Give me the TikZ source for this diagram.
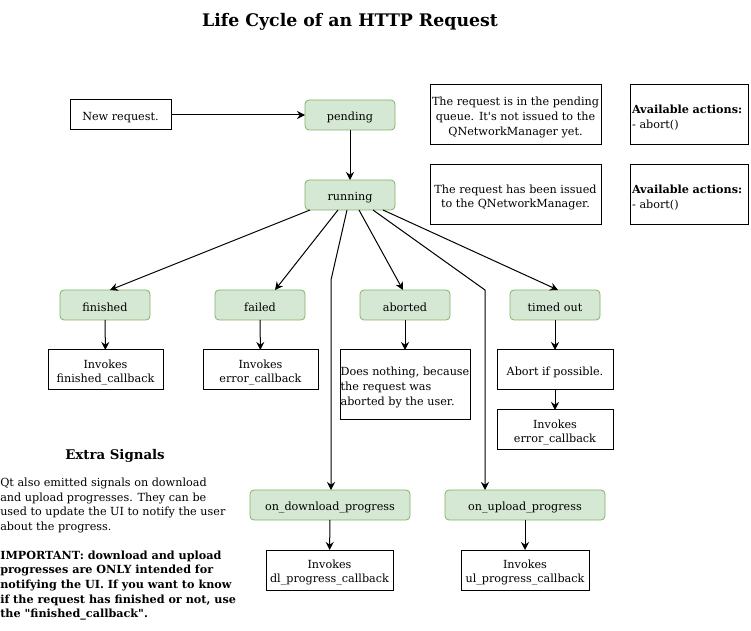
\documentclass[tikz,border=0pt]{standalone}
\usepackage{fontspec}
\setmainfont{DejaVu Serif}
\usetikzlibrary{arrows.meta,calc}
\definecolor{gfill}{HTML}{D5E8D4}
\definecolor{gdraw}{HTML}{82B366}
\newcommand{\bx}[7]{%
  \node[#6, minimum width={(#4-#2)*0.75pt}, minimum height={(#5-#3)*0.75pt}]
    (#1) at ({(#2+#4)/2},{(#3+#5)/2}) {};
  \node[#6, draw=none, fill=none, minimum width=0pt, minimum height=0pt]
    (#1-text) at ({(#2+#4)/2},{(#3+#5)/2+2.5}) {#7};}
\tikzset{
  base/.style={inner sep=1pt, outer sep=0pt, font=\fontsize{8.4}{10.9}\selectfont, align=center},
  gbox/.style={base, draw=gdraw, fill=gfill, rounded corners=3pt, line width=0.6pt},
  wbox/.style={base, draw=black, fill=white, line width=0.75pt},
  arr/.style={draw=black, line width=0.75pt, -{Stealth[length=6pt,width=6pt,inset=2pt]}},
}
\begin{document}
\begin{tikzpicture}[x=0.75pt,y=-0.75pt]
\useasboundingbox (0,0) rectangle (751,631);
\node[font=\fontsize{13}{15}\selectfont\bfseries] (title) at (350,22) {Life Cycle of an HTTP Request};

\bx{newreq}{70}{100}{171}{130}{wbox}{New request.}
\bx{pending}{305}{100}{395}{130}{gbox}{pending}
\bx{running}{305}{180}{395}{210}{gbox}{running}
\bx{note1}{430}{85}{601}{145}{wbox}{The request is in the pending\\queue. It\textquotesingle s not issued to the\\QNetworkManager yet.}
\bx{act1}{630}{85}{748}{145}{wbox,align=left,text width={114*0.75pt}}{\textbf{Available actions:}\\- abort()}
\bx{note2}{430}{165}{601}{225}{wbox}{The request has been issued\\to the QNetworkManager.}
\bx{act2}{630}{165}{748}{225}{wbox,align=left,text width={114*0.75pt}}{\textbf{Available actions:}\\- abort()}

\bx{finished}{60}{290}{150}{320}{gbox}{finished}
\bx{failed}{215}{290}{305}{320}{gbox}{failed}
\bx{aborted}{360}{290}{450}{320}{gbox}{aborted}
\bx{timedout}{510}{290}{600}{320}{gbox}{timed out}

\bx{fincb}{48}{350}{163}{390}{wbox}{Invokes\\finished\_callback}
\bx{errcb}{203}{350}{318}{390}{wbox}{Invokes\\error\_callback}
\bx{nothing}{340}{350}{470}{420}{wbox,align=left}{Does nothing, because\\the request was\\aborted by the user.}
\bx{abortif}{497}{350}{613}{390}{wbox}{Abort if possible.}
\bx{errcb2}{497}{410}{613}{450}{wbox}{Invokes\\error\_callback}

\bx{dl}{250}{490}{410}{520}{gbox}{on\_download\_progress}
\bx{ul}{445}{490}{605}{520}{gbox}{on\_upload\_progress}
\bx{dlcb}{266}{550}{393}{590}{wbox}{Invokes\\dl\_progress\_callback}
\bx{ulcb}{461}{550}{589}{590}{wbox}{Invokes\\ul\_progress\_callback}

\node[font=\fontsize{10}{12}\selectfont\bfseries, inner sep=0pt] (extra) at (115,456) {Extra Signals};
\node[anchor=north west, inner sep=0pt, align=left, font=\fontsize{8.4}{10.9}\selectfont] (extratext) at (0,478)
 {Qt also emitted signals on download\\and upload progresses. They can be\\used to update the UI to notify the user\\about the progress.\\[10.9pt]
 \textbf{IMPORTANT: download and upload}\\\textbf{progresses are ONLY intended for}\\\textbf{notifying the UI. If you want to know}\\\textbf{if the request has finished or not, use}\\\textbf{the \textquotedbl finished\_callback\textquotedbl.}};

\draw[arr] (newreq) -- (pending);
\draw[arr] (pending) -- (running);
\draw[arr] ($(running.south west)+(5,0)$) -- ($(finished.north)+(5,0)$);
\draw[arr] ($(running.south west)+(33,0)$) -- ($(failed.north)+(15,0)$);
\draw[arr] ($(running.south west)+(54,0)$) -- ($(aborted.north)+(-2,0)$);
\draw[arr] ($(running.south west)+(78,0)$) -- ($(timedout.north)+(3,0)$);
\coordinate (bend1) at (331,280);
\coordinate (bend2) at (485,290);
\draw[arr] ($(running.south west)+(42,0)$) -- (bend1) -- (bend1 |- dl.north);
\draw[arr] ($(running.south west)+(68,0)$) -- (bend2) -- (bend2 |- ul.north);

\draw[arr] (finished) -- (fincb);
\draw[arr] (failed) -- (errcb);
\draw[arr] (aborted) -- (aborted |- nothing.north);
\draw[arr] (timedout) -- (abortif);
\draw[arr] (abortif) -- (errcb2);
\draw[arr] (dl) -- (dlcb);
\draw[arr] (ul) -- (ulcb);
\end{tikzpicture}
\end{document}
